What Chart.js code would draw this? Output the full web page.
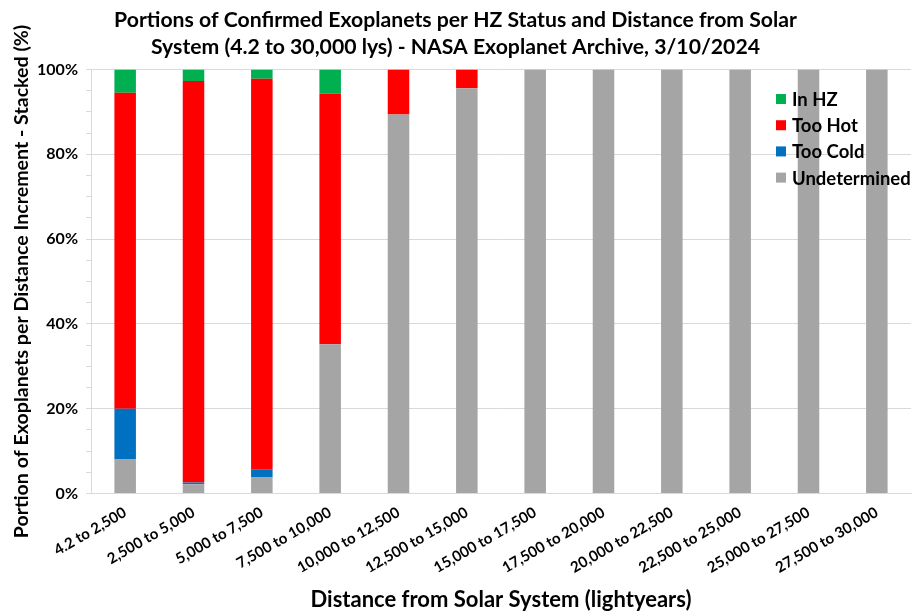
<!DOCTYPE html>
<html><head><meta charset="utf-8">
<script src="https://cdn.jsdelivr.net/npm/chart.js@4"></script>
<style>html,body{margin:0;padding:0;background:#fff}#wrap{width:912px;height:614px}</style>
</head><body><div id="wrap"><canvas id="c" width="912" height="614"></canvas></div>
<script>
const categories = ["4.2 to 2,500","2,500 to 5,000","5,000 to 7,500","7,500 to 10,000","10,000 to 12,500","12,500 to 15,000","15,000 to 17,500","17,500 to 20,000","20,000 to 22,500","22,500 to 25,000","25,000 to 27,500","27,500 to 30,000"];
const undetermined = [8, 2.2, 3.8, 35.2, 89.4, 95.6, 100, 100, 100, 100, 100, 100];
const tooCold      = [12, 0.4, 1.8, 0, 0, 0, 0, 0, 0, 0, 0, 0];
const tooHot       = [74.5, 94.7, 92.2, 59.1, 10.6, 4.4, 0, 0, 0, 0, 0, 0];
const inHZ         = [5.5, 2.7, 2.2, 5.7, 0, 0, 0, 0, 0, 0, 0, 0];
const yTickValues  = [0, 20, 40, 60, 80, 100];

const FONT = 'Lato';
Chart.defaults.font.family = FONT;
Chart.defaults.font.weight = 'bold';
Chart.defaults.color = '#000';

const legendPlugin = {
  id: 'customLegend',
  afterDraw(chart) {
    const ctx = chart.ctx;
    const area = chart.chartArea;
    const items = chart.data.datasets.slice().reverse();
    ctx.save();
    ctx.font = 'bold 18.5px ' + FONT;
    ctx.textBaseline = 'middle';
    ctx.textAlign = 'left';
    const x0 = area.right - 135, y0 = area.top + 29.5;
    items.forEach((ds, i) => {
      const y = y0 + i * 26.2;
      ctx.fillStyle = ds.backgroundColor;
      ctx.fillRect(x0, y - 5, 10, 10);
      ctx.fillStyle = '#000';
      ctx.fillText(ds.label, x0 + 16, y + 1);
    });
    ctx.restore();
  }
};

new Chart(document.getElementById('c'), {
  type: 'bar',
  data: {
    labels: categories,
    datasets: [
      { label: 'Undetermined', data: undetermined, backgroundColor: '#A5A5A5' },
      { label: 'Too Cold', data: tooCold, backgroundColor: '#0070C0' },
      { label: 'Too Hot', data: tooHot, backgroundColor: '#FF0000' },
      { label: 'In HZ', data: inHZ, backgroundColor: '#00B050' }
    ]
  },
  options: {
    responsive: false,
    animation: false,
    layout: { padding: { left: 0, right: 1, top: 0, bottom: 0 } },
    datasets: { bar: { barPercentage: 0.315, categoryPercentage: 1, borderWidth: 0 } },
    plugins: {
      legend: { display: false },
      tooltip: { enabled: false },
      title: {
        display: true,
        text: ['Portions of Confirmed Exoplanets per HZ Status and Distance from Solar', 'System (4.2 to 30,000 lys) - NASA Exoplanet Archive, 3/10/2024'],
        font: { size: 21.2, weight: 'bold', lineHeight: 1.274 },
        color: '#000',
        padding: { top: 6.5, bottom: 9 }
      }
    },
    scales: {
      x: {
        stacked: true,
        grid: { display: false, drawTicks: false },
        border: { display: true, color: '#d9d9d9' },
        ticks: { font: { size: 15, weight: 'bold' }, minRotation: 30, maxRotation: 30, padding: 10, autoSkip: false },
        title: { display: true, text: 'Distance from Solar System (lightyears)', font: { size: 22, weight: 'bold' }, padding: { top: 0, bottom: 1 } },
        afterFit(s) { s.height = 120.5; }
      },
      y: {
        stacked: true,
        min: 0, max: 100,
        ticks: {
          stepSize: 5, autoSkip: false, padding: 8,
          font: { size: 16, weight: 'bold' },
          callback: (v) => yTickValues.includes(v) ? v + '%' : ''
        },
        grid: {
          color: (c) => yTickValues.includes(c.tick.value) ? '#d9d9d9' : 'rgba(0,0,0,0)',
          tickColor: '#d9d9d9', tickLength: 5
        },
        border: { display: true, color: '#d9d9d9' },
        title: { display: true, text: 'Portion of Exoplanets per Distance Increment - Stacked (%)', font: { size: 19.6, weight: 'bold' }, padding: { top: 10, bottom: 0 } },
        afterFit(s) { s.width = 91; }
      }
    }
  },
  plugins: [legendPlugin]
});
</script>
</body></html>
